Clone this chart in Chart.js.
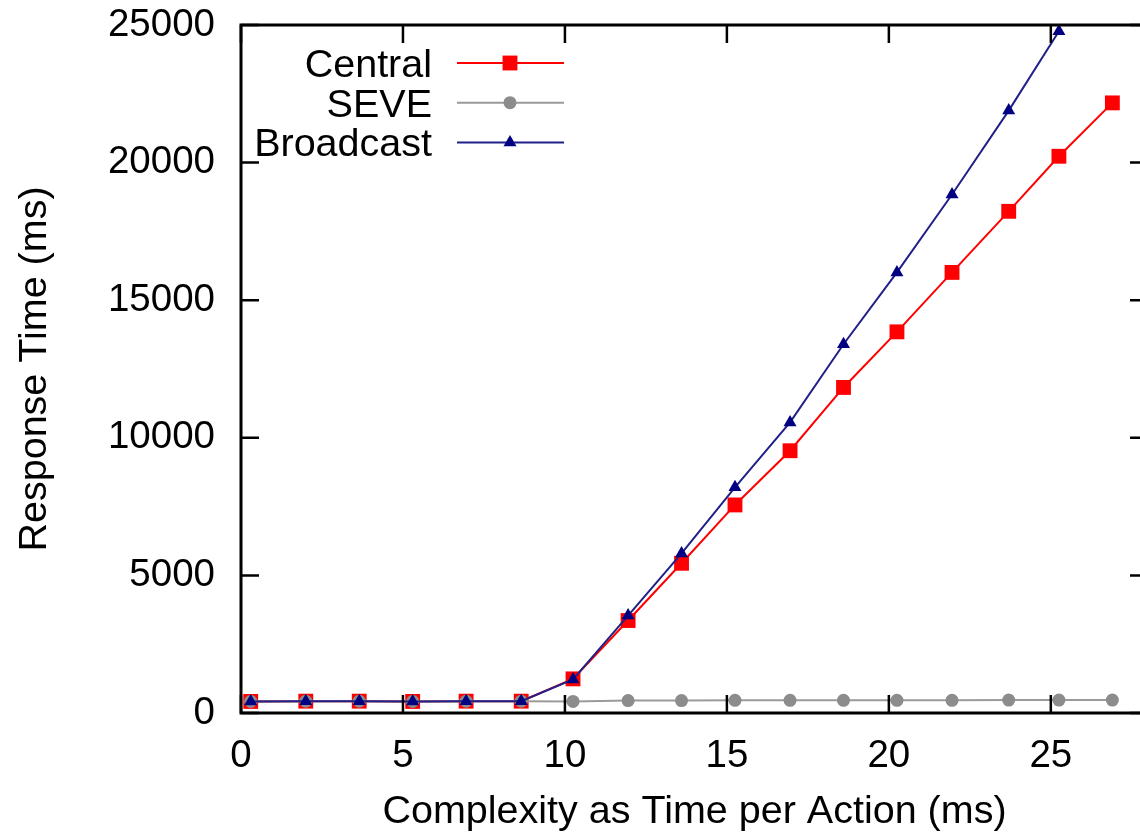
<!DOCTYPE html>
<html>
<head>
<meta charset="utf-8">
<script src="https://cdn.jsdelivr.net/npm/chart.js@4/dist/chart.umd.min.js"></script>
<style>
    html, body { margin: 0; padding: 0; background: #fff; overflow: hidden; }
    #grafico { display: block; }
</style>
</head>
<body>
<canvas id="grafico" width="1160" height="834"></canvas>
<script>
// Datos
const complejidad = [0.3, 2.0, 3.65, 5.3, 6.95, 8.65, 10.25, 11.95, 13.6, 15.25, 16.95, 18.6, 20.25, 21.95, 23.7, 25.25, 26.9];
const central = [420, 430, 430, 420, 430, 430, 1240, 3360, 5440, 7560, 9530, 11830, 13850, 16010, 18230, 20230, 22170];
const seve = [420, 430, 430, 420, 430, 430, 420, 450, 450, 460, 460, 460, 460, 460, 470, 470, 470];
const broadcast = [420, 430, 430, 420, 430, 430, 1220, 3540, 5800, 8200, 10560, 13400, 16010, 18840, 21890, 24770, null];
const ticksX = [0, 5, 10, 15, 20, 25];
const ticksY = [0, 5000, 10000, 15000, 20000, 25000];

const fuente = "Liberation Sans, Arial, sans-serif";

function puntos(valores) {
    return complejidad.map((x, i) => ({ x: x, y: valores[i] }));
}

// Marco con ticks hacia adentro (estilo gnuplot)
const marcoPlugin = {
    id: "marco",
    afterDraw(chart) {
        const ctx = chart.ctx;
        const area = chart.chartArea;
        const sx = chart.scales.x;
        const sy = chart.scales.y;
        ctx.save();
        ctx.strokeStyle = "#000";
        ctx.lineWidth = 2.5;
        ctx.beginPath();
        ticksX.forEach((v) => {
            const px = sx.getPixelForValue(v);
            ctx.moveTo(px, area.bottom);
            ctx.lineTo(px, area.bottom - 18);
            ctx.moveTo(px, area.top);
            ctx.lineTo(px, area.top + 18);
        });
        ticksY.forEach((v) => {
            const py = sy.getPixelForValue(v);
            ctx.moveTo(area.left, py);
            ctx.lineTo(area.left + 18, py);
            ctx.moveTo(area.right, py);
            ctx.lineTo(area.right - 18, py);
        });
        ctx.stroke();
        ctx.lineWidth = 3;
        ctx.strokeRect(area.left, area.top, area.right - area.left, area.bottom - area.top);
        ctx.restore();
    },
};

// Leyenda dentro del gráfico, texto alineado a la derecha
const leyendaPlugin = {
    id: "leyenda",
    afterDraw(chart) {
        const ctx = chart.ctx;
        chart.data.datasets.forEach((ds, i) => {
            const y = 63 + i * 39.7;
            ctx.save();
            ctx.font = "39.5px " + fuente;
            ctx.textAlign = "right";
            ctx.textBaseline = "alphabetic";
            ctx.fillStyle = "#000";
            ctx.fillText(ds.label, 432, y + 14);
            ctx.strokeStyle = ds.borderColor;
            ctx.lineWidth = ds.borderWidth;
            ctx.beginPath();
            ctx.moveTo(457, y);
            ctx.lineTo(564, y);
            ctx.stroke();
            ctx.fillStyle = ds.pointBackgroundColor;
            Chart.helpers.drawPoint(ctx, {
                pointStyle: ds.pointStyle,
                radius: ds.pointRadius,
                borderWidth: 0,
                rotation: 0,
            }, 510, y);
            ctx.restore();
        });
    },
};

function inicializarGrafico() {
    const ctx = document.getElementById("grafico").getContext("2d");
    new Chart(ctx, {
        type: "line",
        data: {
            datasets: [
                {
                    label: "Central",
                    data: puntos(central),
                    borderColor: "#ff0000",
                    borderWidth: 2,
                    pointStyle: "rect",
                    pointRadius: 10.5,
                    pointBackgroundColor: "#ff0000",
                    pointBorderWidth: 0,
                    order: 3,
                },
                {
                    label: "SEVE",
                    data: puntos(seve),
                    borderColor: "#9a9a9a",
                    borderWidth: 2,
                    pointStyle: "circle",
                    pointRadius: 6.5,
                    pointBackgroundColor: "#8c8c8c",
                    pointBorderWidth: 0,
                    order: 2,
                },
                {
                    label: "Broadcast",
                    data: puntos(broadcast),
                    borderColor: "#202088",
                    borderWidth: 2,
                    pointStyle: "triangle",
                    pointRadius: 7.5,
                    pointBackgroundColor: "#000080",
                    pointBorderWidth: 0,
                    order: 1,
                },
            ],
        },
        options: {
            responsive: false,
            animation: false,
            layout: {
                padding: { top: 25, right: 12, left: 0, bottom: 0 },
            },
            plugins: {
                legend: { display: false },
                tooltip: { enabled: false },
            },
            scales: {
                x: {
                    type: "linear",
                    min: 0,
                    max: 28,
                    afterFit: (scale) => {
                        scale.height = 121;
                        scale.paddingLeft = 0;
                        scale.paddingRight = 0;
                    },
                    grid: { display: false },
                    border: { display: false },
                    ticks: {
                        stepSize: 5,
                        includeBounds: false,
                        padding: 12,
                        maxRotation: 0,
                        color: "#000",
                        font: { family: fuente, size: 38.5 },
                        callback: (v) => String(v),
                    },
                    title: {
                        display: true,
                        text: "Complexity as Time per Action (ms)",
                        color: "#000",
                        font: { family: fuente, size: 39.5, lineHeight: 1 },
                        padding: { top: 0, bottom: 2 },
                    },
                },
                y: {
                    min: 0,
                    max: 25000,
                    afterFit: (scale) => {
                        scale.width = 241;
                        scale.paddingTop = 0;
                        scale.paddingBottom = 0;
                    },
                    grid: { display: false },
                    border: { display: false },
                    ticks: {
                        stepSize: 5000,
                        padding: 18,
                        color: "#000",
                        font: { family: fuente, size: 38.5 },
                        callback: (v) => String(v),
                    },
                    title: {
                        display: true,
                        text: "Response Time (ms)",
                        color: "#000",
                        font: { family: fuente, size: 39.5, lineHeight: 1 },
                        padding: { top: 15, bottom: 0 },
                    },
                },
            },
        },
        plugins: [marcoPlugin, leyendaPlugin],
    });
}

window.onload = inicializarGrafico;
</script>
</body>
</html>
